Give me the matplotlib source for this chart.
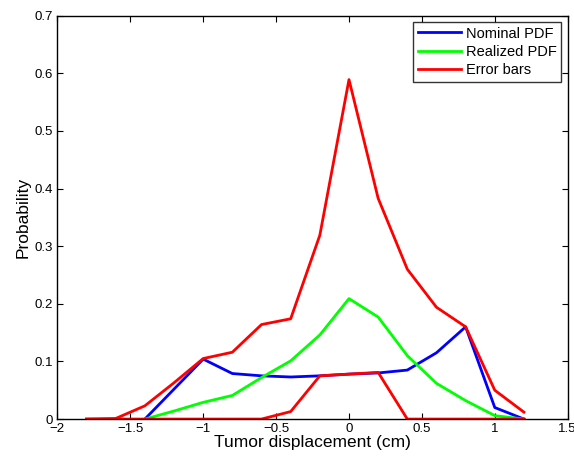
import matplotlib
matplotlib.use("Agg")
import matplotlib.pyplot as plt
import numpy as np

plt.rcParams['font.family'] = ['Liberation Sans', 'DejaVu Sans']

# Displacement grid (cm)
x_nominal = [-1.4, -1.2, -1.0, -0.8, -0.6, -0.4, -0.2, 0.0, 0.2, 0.4, 0.6, 0.8, 1.0, 1.2]
nominal_pdf = [0.0, 0.052, 0.104, 0.079, 0.075, 0.073, 0.075, 0.078, 0.080, 0.085, 0.115, 0.160, 0.020, 0.0]

x_realized = [-1.4, -1.2, -1.0, -0.8, -0.6, -0.4, -0.2, 0.0, 0.2, 0.4, 0.6, 0.8, 1.0, 1.2]
realized_pdf = [0.0, 0.014, 0.029, 0.041, 0.072, 0.101, 0.146, 0.209, 0.177, 0.110, 0.062, 0.032, 0.006, 0.0]

x_err = [-1.8, -1.6, -1.4, -1.2, -1.0, -0.8, -0.6, -0.4, -0.2, 0.0, 0.2, 0.4, 0.6, 0.8, 1.0, 1.2]
err_upper = [0.0, 0.001, 0.023, 0.063, 0.105, 0.116, 0.164, 0.174, 0.319, 0.589, 0.383, 0.260, 0.194, 0.160, 0.050, 0.012]
err_lower = [0.0, 0.0, 0.0, 0.0, 0.0, 0.0, 0.0, 0.013, 0.075, 0.078, 0.081, 0.0, 0.0, 0.0, 0.0, 0.0]

x_ticks = [-2, -1.5, -1, -0.5, 0, 0.5, 1, 1.5]
x_tick_labels = ['\u22122', '\u22121.5', '\u22121', '\u22120.5', '0', '0.5', '1', '1.5']
y_ticks = [0, 0.1, 0.2, 0.3, 0.4, 0.5, 0.6, 0.7]
y_tick_labels = ['0', '0.1', '0.2', '0.3', '0.4', '0.5', '0.6', '0.7']

fig = plt.figure(figsize=(5.74, 4.59), dpi=100)
ax = fig.add_axes([0.100, 0.087, 0.889, 0.879])

lw = 2.0
ax.plot(x_nominal, nominal_pdf, color=(0, 0, 1), lw=lw, label='Nominal PDF')
ax.plot(x_realized, realized_pdf, color=(0, 1, 0), lw=lw, label='Realized PDF')
ax.plot(x_err, err_upper, color=(1, 0, 0), lw=lw, label='Error bars')
ax.plot(x_err, err_lower, color=(1, 0, 0), lw=lw)

ax.set_xlim(-2, 1.5)
ax.set_ylim(0, 0.7)
ax.set_xticks(x_ticks)
ax.set_xticklabels(x_tick_labels)
ax.set_yticks(y_ticks)
ax.set_yticklabels(y_tick_labels)
ax.tick_params(direction='in', top=True, right=True, length=4, width=0.8,
               labelsize=9.5, pad=3)
for s in ax.spines.values():
    s.set_linewidth(1.0)

ax.set_xlabel('Tumor displacement (cm)', fontsize=12.5, labelpad=0)
ax.set_ylabel('Probability', fontsize=12.5, labelpad=3)

leg = ax.legend(loc='upper right', fontsize=10.5, frameon=True, fancybox=False,
                borderaxespad=0.45, handlelength=3.0, handletextpad=0.3,
                labelspacing=0.3, borderpad=0.3)
leg.get_frame().set_edgecolor('black')
leg.get_frame().set_linewidth(1.0)

fig.savefig('out.png', dpi=100)
